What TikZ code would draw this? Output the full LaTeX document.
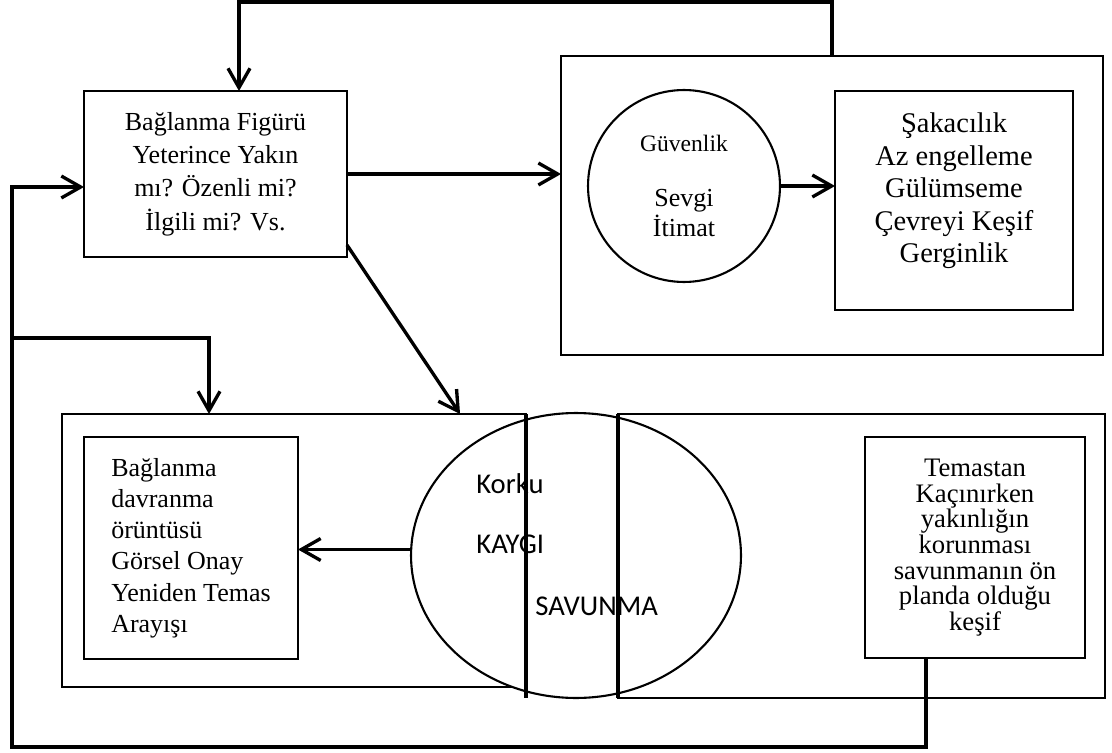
\documentclass[tikz,border=0pt]{standalone}
\usepackage{fontspec}
\setmainfont{Liberation Serif}
\newfontfamily\calibri{Carlito}
\usetikzlibrary{positioning}
\usetikzlibrary{calc}
\usetikzlibrary{arrows.meta}
\usetikzlibrary{shapes.geometric}

\begin{document}
\begin{tikzpicture}[
    x=0.02cm, y=-0.02cm,
    >={Straight Barb[length=11pt,width=12.5pt]},
    % node styles
    box/.style = {
      draw,
      line width=1.2pt,
      inner sep=0pt,
      outer sep=0pt,
      align=center,
      font=\fontsize{14.8}{18.9}\selectfont
    },
    circ/.style = {
      circle,
      draw,
      line width=1.2pt,
      inner sep=0pt,
      outer sep=0pt,
      minimum size=3.84cm,
      align=center,
      font=\fontsize{14.8}{17.1}\selectfont
    },
    oval/.style = {
      ellipse,
      draw,
      fill=white,
      line width=1.2pt,
      inner sep=0pt,
      outer sep=0pt
    },
    word/.style = {
      anchor=base west,
      inner sep=0pt,
      font=\calibri\fontsize{16.3}{19}\selectfont
    },
    % arrow styles
    arr/.style = {->, line width=1.9pt},
    thickline/.style = {line width=1.9pt}
  ]
  \useasboundingbox (0,0) rectangle (1112,753);

  % --- Nodes
  \node[box, minimum width=10.84cm, minimum height=5.98cm] (secure) at (832,205.5) {};

  \node[circ] (trust) at (684,186)
    {{\fontsize{13.4}{16}\selectfont Güvenlik}\\[14.2pt] Sevgi\\İtimat};

  \node[box, minimum width=4.76cm, minimum height=4.38cm,
        label={[align=center, inner sep=0pt, yshift=5.5pt,
                font=\fontsize{16.2}{18.5}\selectfont]center:%
          Şakacılık\\Az engelleme\\Gülümseme\\Çevreyi Keşif\\Gerginlik}]
    (play) at (954,200.5) {};

  \node[box, minimum width=5.26cm, minimum height=3.32cm] (figure) at (215.5,174)
    {Bağlanma Figürü\\Yeterince Yakın\\mı? Özenli mi?\\İlgili mi? Vs.};

  \node[box, minimum width=9.28cm, minimum height=5.46cm] (fearbox) at (294,550.5) {};

  \node[box, minimum width=4.28cm, minimum height=4.44cm, align=left,
        font=\fontsize{14.8}{17.8}\selectfont] (pattern) at (191,548)
    {Bağlanma\\davranma\\örüntüsü\\Görsel Onay\\Yeniden Temas\\Arayışı};

  \node[oval, minimum width=6.6cm, minimum height=5.7cm] (anx) at (576,555.5) {};

  \node[box, minimum width=9.74cm, minimum height=5.68cm] (explore) at (861.5,556) {};

  \node[box, minimum width=4.4cm, minimum height=4.42cm,
        font=\fontsize{15.2}{14.6}\selectfont] (avoid) at (975,547.5)
    {Temastan\\Kaçınırken\\yakınlığın\\korunması\\savunmanın ön\\planda olduğu\\keşif};

  % dividing lines over the oval
  \draw[thickline] (fearbox.north east) -- (fearbox.north east |- explore.south);
  \draw[thickline] (explore.north west) -- (explore.south west);

  \node[word] (fear) at (476,493) {Korku};
  \node[word] (worry) at (476,553) {KAYGI};
  \node[word] (defence) at (535,615) {SAVUNMA};

  % --- Arrows
  \draw[arr] (figure.east) -- (secure.west |- figure.east);
  \draw[arr] (trust.east) -- (play.west |- trust.east);
  \draw[arr] ($(anx.west)+(0,-6)$) -- (pattern.east |- 0,549.5);
  \draw[arr] ($(figure.south east)+(0,-12)$) -- ($(fearbox.north west)+(398,0)$);

  \coordinate (fbtop) at (832,2);
  \coordinate (fbleft) at (239,2);
  \draw[arr] (secure.north) -- (fbtop) -- (fbleft) -- (fbleft |- figure.north);

  \coordinate (loopin) at (12,187);
  \coordinate (loopbl) at (12,747);
  \coordinate (loopbr) at (926,747);
  \draw[arr] (loopbr |- avoid.south) -- (loopbr) -- (loopbl) -- (loopin) -- (loopin -| figure.west);

  \coordinate (branch) at (12,338);
  \coordinate (branchr) at (209,338);
  \draw[arr] (branch) -- (branchr) -- (branchr |- fearbox.north);

\end{tikzpicture}
\end{document}
